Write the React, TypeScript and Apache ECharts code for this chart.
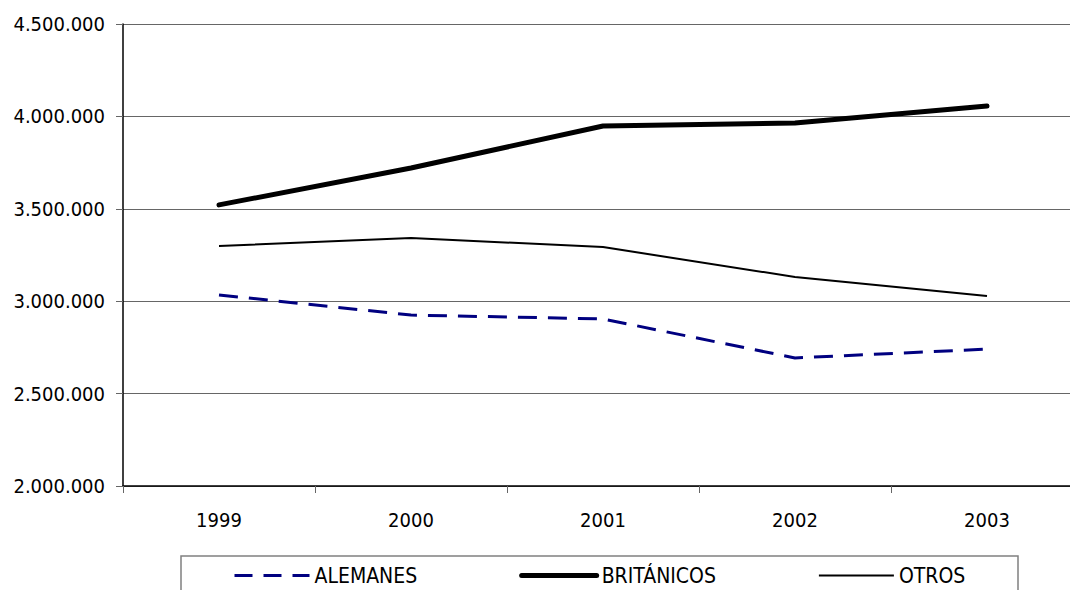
import React, { useEffect, useRef } from "react";
import * as echarts from "echarts";

const categories = ["1999", "2000", "2001", "2002", "2003"];
const alemanes = [3034000, 2925000, 2904000, 2693000, 2741000];
const britanicos = [3521000, 3721000, 3948000, 3964000, 4056000];
const otros = [3299000, 3342000, 3293000, 3131000, 3028000];
const seriesNames = ["ALEMANES", "BRITÁNICOS", "OTROS"];

const FONT = "'DejaVu Sans Condensed', 'DejaVu Sans', sans-serif";

const fmt = (v: number) => String(v).replace(/\B(?=(\d{3})+(?!\d))/g, ".");

export default function App() {
  const ref = useRef<HTMLDivElement>(null);
  useEffect(() => {
    if (!ref.current) return;
    const chart = echarts.init(ref.current, null, { renderer: "svg" });
    chart.setOption({
      animation: false,
      backgroundColor: "#ffffff",
      textStyle: { fontFamily: FONT },
      grid: { left: 123, right: -13, top: 24, bottom: 104, outerBoundsMode: "none" },
      xAxis: {
        type: "category",
        data: categories,
        boundaryGap: true,
        axisLine: { lineStyle: { color: "#000000", width: 1.5 } },
        axisTick: { show: true, length: 7, lineStyle: { color: "#666666" } },
        axisLabel: { color: "#000000", fontSize: 20, margin: 24, fontFamily: FONT },
        splitLine: { show: false },
      },
      yAxis: {
        type: "value",
        min: 2000000,
        max: 4500000,
        interval: 500000,
        axisLine: { show: true, lineStyle: { color: "#000000", width: 1.5 } },
        axisTick: { show: true, length: 7, lineStyle: { color: "#666666" } },
        axisLabel: {
          color: "#000000",
          fontSize: 20,
          margin: 18,
          fontFamily: FONT,
          formatter: (v: number) => fmt(v),
        },
        splitLine: { show: true, lineStyle: { color: "#666666", width: 1 } },
      },
      legend: {
        data: [
          { name: seriesNames[0], lineStyle: { width: 3, type: [18, 11], color: "#000080" } },
          { name: seriesNames[1], lineStyle: { width: 5, color: "#000000", cap: "round" } },
          { name: seriesNames[2], lineStyle: { width: 2, color: "#000000" } },
        ],
        left: 233,
        top: 565,
        itemWidth: 75,
        itemHeight: 20,
        itemGap: 102,
        padding: 0,
        itemStyle: { opacity: 0 },
        textStyle: { color: "#000000", fontSize: 21, fontFamily: FONT },
      },
      graphic: [
        {
          type: "rect",
          shape: { x: 181, y: 556, width: 837, height: 60 },
          style: { fill: "none", stroke: "#808080", lineWidth: 1.5 },
          silent: true,
        },
      ],
      series: [
        {
          name: seriesNames[0],
          type: "line",
          data: alemanes,
          symbol: "none",
          lineStyle: { color: "#000080", width: 3, type: [19, 11] },
          itemStyle: { color: "#000080" },
        },
        {
          name: seriesNames[1],
          type: "line",
          data: britanicos,
          symbol: "none",
          lineStyle: { color: "#000000", width: 5, cap: "round" },
          itemStyle: { color: "#000000" },
        },
        {
          name: seriesNames[2],
          type: "line",
          data: otros,
          symbol: "none",
          lineStyle: { color: "#000000", width: 2 },
          itemStyle: { color: "#000000" },
        },
      ],
    });
    return () => chart.dispose();
  }, []);
  return (
    <div
      ref={ref}
      style={{ position: "absolute", left: 0, top: 0, width: 1070, height: 590, overflow: "hidden" }}
    />
  );
}
